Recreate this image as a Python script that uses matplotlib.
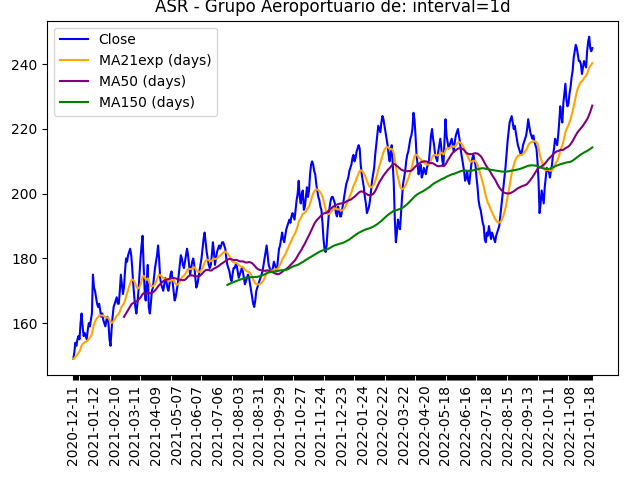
import matplotlib
matplotlib.use("Agg")
import matplotlib.pyplot as plt
import pandas as pd

# Configuration
TITLE = "ASR - Grupo Aeroportuario de: interval=1d"
OUTPUT_FILE = "out.png"

# daily close (one value per trading day)
close = [
    149, 151, 154, 153, 155, 156, 155, 160, 163, 159, 156, 157, 156, 155, 158, 160, 159, 161, 163, 175,
    171, 170, 168, 166, 165, 166, 164, 162, 163, 161, 160, 159, 161, 162, 160, 155, 153, 158, 162, 165,
    166, 167, 168, 166, 166, 170, 175, 172, 169, 171, 176, 180, 179, 181, 182, 183, 181, 177, 172, 168,
    165, 163, 166, 170, 175, 180, 184, 187, 178, 170, 167, 172, 178, 165, 163, 166, 170, 171, 174, 177,
    179, 181, 184, 180, 174, 172, 171, 170, 172, 174, 173, 171, 170, 172, 175, 176, 173, 170, 167, 168,
    170, 172, 175, 178, 181, 180, 178, 177, 179, 181, 183, 181, 178, 175, 177, 179, 180, 178, 174, 171,
    172, 174, 176, 178, 180, 183, 186, 188, 185, 182, 180, 178, 177, 178, 181, 185, 182, 178, 180, 182,
    183, 184, 183, 184, 185, 185, 184, 183, 180, 178, 177, 176, 174, 173, 175, 177, 177, 178, 178, 176,
    174, 175, 176, 177, 176, 174, 172, 173, 174, 175, 174, 172, 170, 168, 166, 165, 167, 170, 171, 172,
    173, 174, 175, 176, 178, 180, 182, 184, 181, 178, 177, 176, 176, 177, 179, 178, 177, 176, 180, 183,
    184, 186, 188, 186, 185, 187, 189, 190, 191, 192, 191, 193, 194, 193, 192, 195, 198, 200, 204, 199,
    197, 200, 201, 195, 196, 199, 202, 199, 201, 206, 209, 210, 209, 207, 206, 203, 201, 199, 198, 196,
    195, 191, 186, 183, 182, 184, 189, 193, 196, 198, 199, 199, 198, 197, 194, 193, 196, 195, 193, 193,
    195, 197, 199, 201, 203, 204, 205, 207, 208, 209, 211, 212, 210, 211, 213, 214, 215, 214, 209, 206,
    204, 202, 199, 197, 194, 195, 196, 198, 201, 204, 206, 208, 212, 215, 218, 221, 220, 219, 222, 224,
    223, 221, 219, 217, 215, 212, 210, 213, 215, 209, 203, 192, 185, 188, 192, 190, 189, 194, 199, 203,
    205, 207, 210, 212, 213, 215, 217, 218, 220, 225, 223, 218, 212, 209, 206, 208, 209, 205, 206, 208,
    207, 206, 208, 209, 210, 214, 218, 220, 217, 215, 212, 211, 210, 213, 215, 217, 214, 210, 209, 216,
    223, 218, 216, 214, 215, 216, 217, 215, 213, 216, 218, 219, 220, 218, 216, 213, 211, 209, 207, 204,
    205, 207, 204, 203, 206, 209, 211, 212, 210, 209, 205, 202, 198, 196, 195, 193, 191, 190, 186, 185,
    188, 187, 190, 188, 186, 188, 187, 186, 185, 187, 188, 189, 190, 193, 196, 199, 202, 205, 208, 212,
    216, 219, 222, 223, 224, 222, 220, 221, 219, 217, 215, 214, 213, 212, 213, 215, 216, 217, 218, 220,
    223, 221, 219, 218, 217, 218, 216, 215, 214, 210, 204, 194, 197, 201, 199, 197, 202, 205, 208, 207,
    207, 205, 207, 209, 212, 214, 217, 216, 215, 218, 222, 227, 224, 222, 228, 231, 234, 229, 227, 228,
    231, 233, 236, 238, 242, 244, 246, 245, 243, 241, 241, 240, 237, 239, 241, 240, 239, 244, 247, 248.5,
    245, 244, 245,
]

# labels shown on every 20th trading day (as printed on the chart)
tick_labels = [
    "2020-12-11", "2021-01-12", "2021-02-10", "2021-03-11", "2021-04-09",
    "2021-05-07", "2021-06-07", "2021-07-06", "2021-08-03", "2021-08-31",
    "2021-09-29", "2021-10-27", "2021-11-24", "2021-12-23", "2022-01-24",
    "2022-02-22", "2022-03-22", "2022-04-20", "2022-05-18", "2022-06-16",
    "2022-07-18", "2022-08-15", "2022-09-13", "2022-10-11", "2022-11-08",
    "2021-01-18",
]
LABEL_STEP = 20


def main():
    df = pd.DataFrame({"Close": close})
    df["MA21exp"] = df["Close"].ewm(span=21, adjust=False).mean()
    df["MA50"] = df["Close"].rolling(50).mean()
    df["MA150"] = df["Close"].rolling(150).mean()

    fig = plt.figure(figsize=(6.4, 4.8), dpi=100)
    ax = fig.add_axes([0.074, 0.219, 0.892, 0.738])

    x = range(len(df))
    ax.plot(x, df["Close"], color="blue", label="Close")
    ax.plot(x, df["MA21exp"], color="orange", label="MA21exp (days)")
    ax.plot(x, df["MA50"], color="purple", label="MA50 (days)")
    ax.plot(x, df["MA150"], color="green", label="MA150 (days)")

    # a tick on every day, a label only every 20th
    labels = [""] * len(df)
    for k, lab in enumerate(tick_labels):
        if k * LABEL_STEP < len(df):
            labels[k * LABEL_STEP] = lab
    ax.set_xticks(list(x))
    ax.set_xticklabels(labels, rotation=90)

    ax.set_title(TITLE)
    ax.legend(loc="upper left")

    fig.savefig(OUTPUT_FILE)


if __name__ == "__main__":
    main()
